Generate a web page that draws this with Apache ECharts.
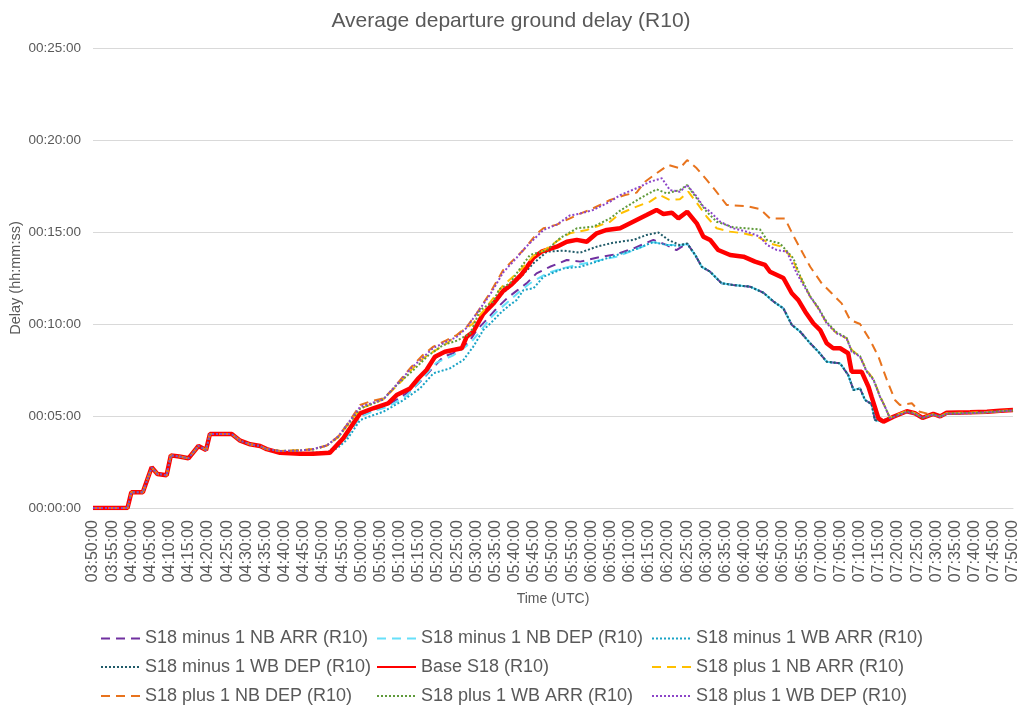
<!DOCTYPE html>
<html>
<head>
<meta charset="utf-8">
<title>Average departure ground delay (R10)</title>
<script src="https://cdn.jsdelivr.net/npm/echarts/dist/echarts.min.js"></script>
<style>
    html, body {margin: 0; padding: 0; background: #fff;}
    #chart {width: 1022px; height: 709px;}
</style>
</head>
<body>
<div id="chart"></div>
<script>
// x = minutes after 03:50 UTC, y = delay in minutes
var START_MIN = 3 * 60 + 50;

// identical for every scenario until about 04:35
var sharedRamp = [[0,0],[9,0],[10,0.85],[13,0.85],[15.3,2.21],[16.8,1.85],[19.2,1.78],[20.3,2.86],[22.5,2.8],[24.9,2.7],
    [27.5,3.37],[29.5,3.15],[30.5,4.02],[36.2,4.02],[38.4,3.66],[41,3.46],[43.6,3.37]];

// the four "minus" runs fall back together after the peak
var minusFall = [[157.1,13.75],[158.8,13.11],[161,12.84],[164,12.21],[167,12.12],[171.4,12.03],[174.9,11.7],[177.6,11.21],
    [180.1,10.85],[182.3,9.95],[184.5,9.58],[187.1,8.95],[189.2,8.5],[191.4,7.95],[194.9,7.86],[197,7.23],[198.4,6.41],
    [200.1,6.5],[201.4,5.87],[203.1,5.65],[204,4.78],[205.5,4.72],[208.8,4.96],[212.3,5.24],[214.4,5.13],[216.4,4.9],
    [219.2,5.1],[221,4.97],[222.7,5.15],[228.8,5.16],[233.2,5.2],[236.6,5.25],[240,5.3]];

var minus1NbArr = [[45.3,3.2],[48.8,3.02],[54,2.98],[57.4,3.0],[61.8,3.05],[64,3.4],[66.2,3.9],[69.7,5.0],[73,5.3],[77,5.6],
    [80,6.0],[83,6.4],[86,7.0],[89,7.7],[91.4,8.22],[95,8.5],[98,9.0],[100.1,9.67],[102.5,10.2],[105.3,10.85],[108,11.4],
    [110.5,11.8],[113.1,12.21],[115.7,12.75],[119.2,13.11],[123.6,13.48],[127.1,13.39],[131.4,13.6],[136.6,13.8],[141,14.11],
    [146.2,14.57],[149.7,14.29],[152.2,14.02],[155,14.38]];

var minus1NbDep = [[45.3,3.2],[48.8,3.02],[54,2.98],[57.4,3.0],[61.8,3.05],[64,3.4],[66.2,3.85],[69.7,4.95],[73,5.25],[77,5.5],
    [81.8,6.1],[85,6.8],[89.6,7.9],[94,8.3],[98.4,8.95],[101,9.6],[103.6,10.31],[106,10.8],[108.8,11.3],[111.5,11.8],
    [114,12.21],[118.4,12.75],[122,13.0],[126,13.2],[130.5,13.39],[136.6,13.66],[141,14.0],[146.2,14.45],[149.7,14.3],
    [153.1,14.29],[155,14.35]];

var minus1WbArr = [[45.3,3.2],[48.8,3.02],[54,2.98],[57.4,3.0],[61.8,3.02],[64,3.3],[66.2,3.7],[69.7,4.78],[72.5,5.0],[75.7,5.23],
    [78,5.5],[81,5.87],[85.3,6.5],[88.8,7.32],[93.1,7.59],[96.6,8.04],[99.2,8.77],[101.8,9.67],[104,10.1],[106.2,10.58],
    [108.5,11.0],[110.5,11.3],[112.3,11.85],[114.9,11.94],[117.5,12.57],[122.7,13.02],[127.1,13.11],[131.4,13.39],
    [136.6,13.75],[139.6,13.93],[142,14.1],[146,14.45],[149.7,14.3],[153.1,14.25],[155,14.35]];

var minus1WbDep = [[45.3,3.2],[48.8,3.02],[54,2.98],[57.4,3.0],[61,3.0],[64,3.45],[66.2,4.0],[69.7,5.1],[73.1,5.4],[77,5.65],
    [79.2,6.1],[82.7,6.5],[84.9,7.0],[87,7.45],[89.2,8.15],[91.8,8.45],[96.2,8.65],[97.5,9.25],[99.2,9.55],[101.8,10.5],
    [104.4,11.05],[107,11.7],[109.2,12.1],[111.8,12.6],[114.9,13.3],[118.4,13.93],[122.7,13.99],[127.1,13.88],[131.4,14.2],
    [135.7,14.42],[141,14.57],[144.4,14.84],[147.5,14.97],[150.1,14.57],[153.1,14.29],[155,14.38]];

var baseS18 = [[45.3,3.2],[48.8,3.0],[54,2.95],[57.4,2.95],[61.8,3.0],[64,3.5],[65.3,3.79],[66.2,4.07],[69.7,5.15],[73.1,5.42],
    [77,5.69],[79.2,6.14],[82.7,6.5],[84.9,7.05],[87,7.5],[89.2,8.22],[91.8,8.49],[96.2,8.68],[97.5,9.31],[99.2,9.58],
    [101.8,10.55],[104.4,11.1],[107,11.8],[109.2,12.15],[111.8,12.7],[114.9,13.6],[117,13.93],[121,14.2],[123.6,14.47],
    [126.2,14.57],[128.8,14.47],[131.4,14.93],[134,15.11],[137.5,15.2],[139.2,15.38],[141.8,15.65],[144.4,15.92],[147,16.2],
    [148.8,15.98],[151,16.05],[152.7,15.74],[155,16.1],[157.5,15.47],[159.2,14.75],[161,14.57],[163.1,14.02],[166.2,13.75],
    [169.7,13.66],[172.7,13.39],[175.3,13.21],[176.6,12.84],[180.1,12.5],[182.3,11.67],[184,11.3],[185.8,10.67],[187.9,10.04],
    [189.7,9.67],[191.4,8.95],[193.1,8.68],[194.9,8.68],[197,8.41],[197.9,7.41],[200.5,7.41],[202.3,6.59],[203.1,6.05],
    [204.9,4.87],[206.2,4.69],[208.8,4.96],[212.3,5.26],[214.4,5.15],[216.4,4.9],[219.2,5.12],[221,4.98],[222.7,5.18],
    [228.8,5.2],[233.2,5.23],[236.6,5.29],[240,5.33]];

var plus1NbArr = [[45.3,3.2],[48.8,3.1],[54,3.14],[57.4,3.2],[61,3.4],[64,3.85],[69.7,5.4],[75.7,5.9],[80.5,6.9],[83,7.5],
    [86.1,8.13],[88.8,8.5],[92,8.9],[96.6,9.67],[99,10.0],[101.8,10.7],[104.4,11.4],[107,12.1],[109.2,12.5],[111.8,13.0],
    [114.9,13.7],[118.4,14.1],[121,14.5],[124.4,14.93],[128.8,15.11],[131.4,15.3],[134.9,15.56],[137.5,16.0],[141.8,16.38],
    [145.3,16.65],[147.9,17.01],[150.5,16.74],[153.1,16.78],[155.3,17.19],[157.9,16.47],[160.1,15.83],[162.7,15.2],
    [166.2,15.02],[169.7,14.93],[173.2,14.75],[176.6,14.38],[179.7,14.2],[182.3,13.6],[184.5,12.57],[187.1,11.48],
    [189.2,10.85],[191.4,10.04],[194,9.49],[196.6,9.22],[197.9,8.6],[200.1,8.22],[201.8,7.5],[203.6,7.0],[205.3,6.1],
    [206.6,5.51],[207.9,4.9],[209.5,5.05],[212.3,5.28],[214.4,5.15],[216.4,4.92],[219.2,5.1],[221,4.98],[222.7,5.15],
    [228.8,5.18],[233.2,5.22],[236.6,5.27],[240,5.32]];

var plus1NbDep = [[45,3.2],[49,3.1],[54,3.12],[58,3.2],[61,3.4],[64,3.9],[66.5,4.6],[69.7,5.6],[72.5,5.8],[75.7,5.96],[78,6.4],
    [80.5,7.05],[83.1,7.68],[86,8.3],[88.8,8.77],[92,9.1],[94.9,9.4],[97.5,9.85],[100.1,10.58],[103.6,11.7],[107,12.93],
    [110.5,13.66],[112.3,14.02],[115.7,14.9],[117.5,15.2],[121,15.4],[124,15.7],[127.1,16.0],[130.5,16.29],[134.9,16.74],
    [138.8,17.01],[141.8,17.14],[144,17.73],[147,18.19],[150.1,18.64],[153.1,18.46],[155,18.91],[157.5,18.46],[160.1,17.83],
    [162.3,17.28],[165.3,16.47],[170.5,16.41],[174,16.25],[176.6,15.74],[180.5,15.74],[182.7,14.8],[187.1,13.11],
    [190.1,12.21],[192.7,11.67],[195.3,11.12],[197.5,10.22],[200.1,10.0],[202.7,9.13],[204.9,8.22],[207.1,6.96],
    [209.2,5.87],[210.5,5.6],[213.6,5.69],[215.7,5.23],[219.2,5.05],[221,4.98],[222.7,5.15],[228.8,5.15],[233.2,5.18],
    [236.6,5.25],[240,5.3]];

var plus1WbArr = [[45.3,3.2],[48.8,3.1],[54,3.13],[57.4,3.18],[61,3.4],[64,3.85],[69.7,5.4],[75.7,5.9],[79.2,6.68],[83.6,7.5],
    [87.5,8.3],[91.4,8.86],[95,9.1],[98.4,9.49],[101,10.76],[104.4,11.21],[106,11.9],[108.8,12.21],[111,12.9],[114,13.75],
    [118.4,14.02],[121.8,14.66],[126.2,15.2],[130.5,15.29],[134.9,15.74],[137.5,16.16],[142.7,16.83],[147,17.32],
    [149.7,17.1],[153.1,17.28],[155,17.55],[157.5,16.83],[160.1,16.1],[162.7,15.56],[167,15.26],[170.5,15.2],[174,15.14],
    [175.8,14.57],[179.2,14.38],[182.7,13.57],[184.5,12.6],[187.1,11.5],[189.2,10.9],[191.4,10.1],[194,9.55],[196.6,9.25],
    [197.9,8.55],[200.1,8.25],[201.8,7.45],[203.6,7.0],[205.3,6.05],[206.6,5.5],[207.9,4.88],[209.5,5.02],[212.3,5.25],
    [214.4,5.13],[216.4,4.9],[219.2,5.08],[221,4.97],[222.7,5.13],[228.8,5.17],[233.2,5.2],[236.6,5.26],[240,5.3]];

var plus1WbDep = [[45.3,3.2],[48.8,3.1],[54,3.12],[57.4,3.2],[61,3.4],[64,3.9],[69.7,5.5],[75.7,5.9],[80.5,7.0],[83,7.6],
    [88.8,8.7],[94.9,9.3],[97.5,9.8],[100.1,10.58],[103.6,11.6],[107,12.8],[110.5,13.6],[113,14.2],[117.5,15.11],[121,15.4],
    [124.4,15.9],[127.1,16.0],[130.5,16.2],[134.9,16.65],[137.5,17.0],[142.7,17.46],[145.3,17.73],[148.4,17.92],
    [150.5,17.28],[153.1,17.19],[155,17.55],[157.5,16.92],[159.2,16.38],[161,16.1],[163.6,15.56],[167,15.2],[170.5,15.02],
    [174,14.75],[175.8,14.3],[178.4,14.02],[181,13.93],[183.6,12.75],[187.1,11.48],[189.2,10.85],[191.4,10.04],[194,9.49],
    [196.6,9.22],[197.9,8.5],[200.1,8.22],[201.8,7.41],[203.6,6.96],[205.3,6.05],[206.6,5.51],[207.9,4.87],[209.5,5.0],
    [212.3,5.22],[214.4,5.12],[216.4,4.9],[219.2,5.08],[221,4.96],[222.7,5.12],[228.8,5.15],[233.2,5.2],[236.6,5.25],
    [240,5.3]];

var xTicks = {min: 0, max: 240, step: 5};
var yTicks = {min: 0, max: 25, step: 5};

function pad(n) {
    return (n < 10 ? '0' : '') + n;
}
function clock(offset) {
    var t = START_MIN + Math.round(offset);
    return pad(Math.floor(t / 60)) + ':' + pad(t % 60) + ':00';
}

var DASH = [9, 6];
var DOT = [2, 2];
var seriesDefs = [
    {name: 'S18 minus 1 NB ARR (R10)', data: sharedRamp.concat(minus1NbArr, minusFall), color: '#7030A0', type: DASH, width: 2},
    {name: 'S18 minus 1 NB DEP (R10)', data: sharedRamp.concat(minus1NbDep, minusFall), color: '#66E0FA', type: DASH, width: 2},
    {name: 'S18 minus 1 WB ARR (R10)', data: sharedRamp.concat(minus1WbArr, minusFall), color: '#19A3C6', type: DOT, width: 2},
    {name: 'S18 minus 1 WB DEP (R10)', data: sharedRamp.concat(minus1WbDep, minusFall), color: '#1F5A68', type: DOT, width: 2},
    {name: 'Base S18 (R10)', data: sharedRamp.concat(baseS18), color: '#FF0000', type: 'solid', width: 4.5},
    {name: 'S18 plus 1 NB ARR (R10)', data: sharedRamp.concat(plus1NbArr), color: '#FFC000', type: DASH, width: 2},
    {name: 'S18 plus 1 NB DEP (R10)', data: sharedRamp.concat(plus1NbDep), color: '#E8731D', type: DASH, width: 2},
    {name: 'S18 plus 1 WB ARR (R10)', data: sharedRamp.concat(plus1WbArr), color: '#5F9A3A', type: DOT, width: 2},
    {name: 'S18 plus 1 WB DEP (R10)', data: sharedRamp.concat(plus1WbDep), color: '#8C45C8', type: DOT, width: 2}
];

var TEXT = '#595959';
var FONT = '"Liberation Sans", Arial, sans-serif';

// legend is a 3 x 3 block, filled row by row like the Excel one
var legendCols = [100, 376, 651];
var legendRows = [638.5, 667, 696];

var legends = seriesDefs.map(function (s, i) {
    return {
        left: legendCols[i % 3],
        top: legendRows[Math.floor(i / 3)] - 10,
        padding: 0,
        itemWidth: 39,
        itemHeight: 14,
        itemGap: 0,
        itemStyle: {opacity: 0},
        textStyle: {color: TEXT, fontSize: 18, fontFamily: FONT, lineHeight: 20},
        data: [s.name]
    };
});

var chart = echarts.init(document.getElementById('chart'));
chart.setOption({
    animation: false,
    backgroundColor: '#fff',
    title: {
        text: 'Average departure ground delay (R10)',
        left: 'center',
        top: 6,
        textStyle: {color: TEXT, fontSize: 21, fontWeight: 'normal', fontFamily: FONT}
    },
    legend: legends,
    grid: {left: 93, right: 9, top: 48, bottom: 201, containLabel: false, outerBoundsMode: 'none'},
    xAxis: {
        type: 'value',
        min: xTicks.min,
        max: xTicks.max,
        interval: xTicks.step,
        name: 'Time (UTC)',
        nameLocation: 'middle',
        nameGap: 84,
        nameMoveOverlap: false,
        nameTextStyle: {color: TEXT, fontSize: 14, fontFamily: FONT},
        axisLine: {lineStyle: {color: '#D9D9D9'}},
        axisTick: {show: false},
        splitLine: {show: false},
        axisLabel: {
            rotate: 90,
            margin: 12,
            color: TEXT,
            fontSize: 16,
            fontFamily: FONT,
            formatter: clock
        }
    },
    yAxis: {
        type: 'value',
        min: yTicks.min,
        max: yTicks.max,
        interval: yTicks.step,
        name: 'Delay (hh:mm:ss)',
        nameLocation: 'middle',
        nameGap: 70,
        nameMoveOverlap: false,
        nameTextStyle: {color: TEXT, fontSize: 14.5, fontFamily: FONT},
        axisLine: {show: false},
        axisTick: {show: false},
        splitLine: {lineStyle: {color: '#D9D9D9'}},
        axisLabel: {
            margin: 12,
            color: TEXT,
            fontSize: 13.5,
            fontFamily: FONT,
            formatter: function (v) {
                return '00:' + pad(v) + ':00';
            }
        }
    },
    series: seriesDefs.map(function (s) {
        return {
            name: s.name,
            type: 'line',
            data: s.data,
            symbol: 'none',
            showSymbol: false,
            color: s.color,
            lineStyle: {color: s.color, width: s.width, type: s.type}
        };
    })
});
</script>
</body>
</html>
